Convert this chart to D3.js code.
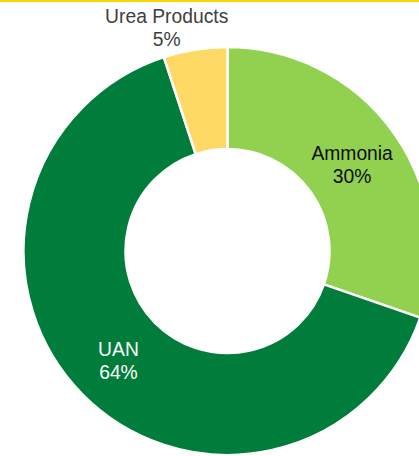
<!DOCTYPE html>
<html>
<head>
<meta charset="utf-8">
<script src="https://cdn.jsdelivr.net/npm/d3@7"></script>
<style>
  html, body { margin: 0; padding: 0; background: #fff; overflow: hidden; }
  svg { display: block; }
</style>
</head>
<body>
<svg id="chart" width="419" height="456"></svg>
<script>
// Product mix shares (percent)
const categories = ["Ammonia", "UAN", "Urea Products"];
const shares = [30, 64, 5];
const sliceColors = ["#92D050", "#007D3A", "#FFD966"];
const labelColors = ["#0D0D0D", "#FFFFFF", "#404040"];

const W = 419, H = 456;
const cx = 227.5, cy = 251;
const outerR = 204, innerR = 102;
const fontSize = 19.3, lineGap = 23;

const svg = d3.select("#chart");

// Yellow rule across the top edge
svg.append("rect")
  .attr("x", 0).attr("y", 0)
  .attr("width", W).attr("height", 2)
  .attr("fill", "#FFD500");

const data = categories.map((c, i) => ({ name: c, value: shares[i], i }));

const pie = d3.pie().sort(null).value(d => d.value);
const arc = d3.arc().innerRadius(innerR).outerRadius(outerR);
const arcs = pie(data);

const g = svg.append("g").attr("transform", `translate(${cx},${cy})`);

g.selectAll("path.slice")
  .data(arcs)
  .join("path")
  .attr("class", "slice")
  .attr("d", arc)
  .attr("fill", d => sliceColors[d.data.i])
  .attr("stroke", "#fff")
  .attr("stroke-width", 2.5)
  .attr("stroke-linejoin", "round");

// Labels: inside slices at the centroid, small slice label sits above the ring
g.selectAll("text.lbl")
  .data(arcs)
  .join("text")
  .attr("class", "lbl")
  .attr("font-family", "Liberation Sans, Arial, sans-serif")
  .attr("font-size", fontSize)
  .attr("fill", d => labelColors[d.data.i])
  .each(function (d) {
    const t = d3.select(this);
    const lines = [d.data.name, d.data.value + "%"];
    if (d.data.value >= 10) {
      const c = arc.centroid(d);
      const y = c[1] - lineGap / 2 + fontSize * 0.35 + 2.5;
      t.attr("text-anchor", "middle");
      lines.forEach((s, k) => {
        t.append("tspan").attr("x", c[0]).attr("y", y + k * lineGap).text(s);
      });
    } else {
      // outside label, right edge aligned with the slice's end boundary
      const x = Math.sin(d.endAngle) * outerR + 0.8;
      const y = -outerR - 2 * lineGap + 22;
      t.attr("text-anchor", "end");
      t.append("tspan").attr("x", x).attr("y", y).text(lines[0]);
      const w = t.node().getComputedTextLength();
      t.append("tspan").attr("x", x - w / 2).attr("y", y + lineGap)
        .attr("text-anchor", "middle").text(lines[1]);
    }
  });
</script>
</body>
</html>
